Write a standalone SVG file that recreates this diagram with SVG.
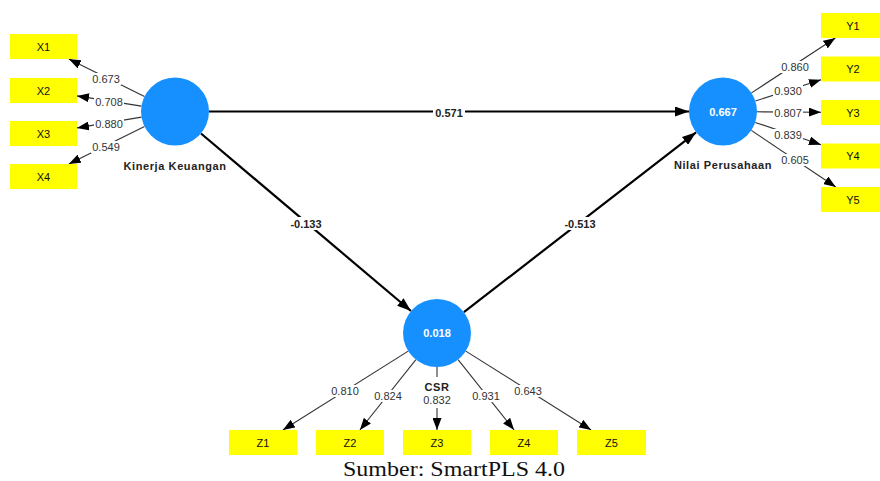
<svg xmlns="http://www.w3.org/2000/svg" width="880" height="481" viewBox="0 0 880 481">
<style>
.bg{fill:#ffffff}
.lat{fill:#1790ff}
.ind{fill:#ffff00}
.ilbl{font-family:"Liberation Sans",Arial,sans-serif;font-size:11px;fill:#111;text-anchor:middle}
.name{font-family:"Liberation Sans",Arial,sans-serif;font-size:11px;font-weight:bold;fill:#222;text-anchor:middle;letter-spacing:0.6px}
.r2{font-family:"Liberation Sans",Arial,sans-serif;font-size:11px;font-weight:bold;fill:#ffffff;text-anchor:middle}
.load{font-family:"Liberation Sans",Arial,sans-serif;font-size:11px;fill:#333;text-anchor:middle}
.path{font-family:"Liberation Sans",Arial,sans-serif;font-size:11px;font-weight:bold;fill:#222;text-anchor:middle}
.sline{stroke:#000;stroke-width:2.2;fill:none;marker-end:url(#big)}
.lline{stroke:#333;stroke-width:1.1;fill:none;marker-end:url(#small)}
.cap{font-family:"Liberation Serif","Times New Roman",serif;font-size:20px;fill:#111;text-anchor:middle}
</style>
<defs>
<marker id="big" markerUnits="userSpaceOnUse" markerWidth="14" markerHeight="10" refX="14" refY="5" orient="auto">
<path d="M0,0 L14,5 L0,10 z" fill="#000"/>
</marker>
<marker id="small" markerUnits="userSpaceOnUse" markerWidth="12" markerHeight="9" refX="12" refY="4.5" orient="auto">
<path d="M0,0 L12,4.5 L0,9 z" fill="#000"/>
</marker>
</defs>
<rect x="0" y="0" width="880" height="481" fill="#ffffff"/>

<g id="connectors">
<line class="sline" x1="209" y1="111.5" x2="689" y2="111.5"/>
<line class="sline" x1="201" y1="133.5" x2="411" y2="311"/>
<line class="sline" x1="463.9" y1="312.2" x2="696.1" y2="132.3"/>

<line class="lline" x1="144.5" y1="96.4" x2="68.8" y2="59"/>
<line class="lline" x1="141.4" y1="106.1" x2="77" y2="95.9"/>
<line class="lline" x1="141.5" y1="117.1" x2="77" y2="127.9"/>
<line class="lline" x1="144.5" y1="126.6" x2="68.8" y2="164"/>

<line class="lline" x1="751.5" y1="92.9" x2="835.4" y2="38"/>
<line class="lline" x1="755.4" y1="101" x2="821" y2="79.8"/>
<line class="lline" x1="757" y1="111.8" x2="821" y2="112.2"/>
<line class="lline" x1="755.2" y1="122.4" x2="821" y2="144.7"/>
<line class="lline" x1="751.3" y1="130.4" x2="835.8" y2="187"/>

<line class="lline" x1="408.2" y1="351.1" x2="282.9" y2="430"/>
<line class="lline" x1="415.9" y1="359.6" x2="359.9" y2="430"/>
<line class="lline" x1="437" y1="367" x2="437" y2="430"/>
<line class="lline" x1="458.1" y1="359.6" x2="514.1" y2="430"/>
<line class="lline" x1="465.8" y1="351.1" x2="591.1" y2="430"/>

<rect class="bg" x="433" y="106" width="32" height="13"/>
<text class="path" x="449" y="117">0.571</text>
<rect class="bg" x="287" y="217" width="38" height="13"/>
<text class="path" x="306" y="228">-0.133</text>
<rect class="bg" x="561" y="217" width="38" height="13"/>
<text class="path" x="580" y="228">-0.513</text>

<rect class="bg" x="91" y="73" width="30" height="12"/>
<text class="load" x="106" y="83">0.673</text>
<rect class="bg" x="94" y="96" width="30" height="12"/>
<text class="load" x="109" y="106">0.708</text>
<rect class="bg" x="94" y="118" width="30" height="12"/>
<text class="load" x="109" y="128">0.880</text>
<rect class="bg" x="91" y="141" width="30" height="12"/>
<text class="load" x="106" y="151">0.549</text>

<rect class="bg" x="780" y="61" width="30" height="12"/>
<text class="load" x="795" y="71">0.860</text>
<rect class="bg" x="773" y="85" width="30" height="12"/>
<text class="load" x="788" y="95">0.930</text>
<rect class="bg" x="773" y="107" width="30" height="12"/>
<text class="load" x="788" y="117">0.807</text>
<rect class="bg" x="773" y="129" width="30" height="12"/>
<text class="load" x="788" y="139">0.839</text>
<rect class="bg" x="780" y="154" width="30" height="12"/>
<text class="load" x="795" y="164">0.605</text>

<rect class="bg" x="330" y="385" width="30" height="12"/>
<text class="load" x="345" y="395">0.810</text>
<rect class="bg" x="373" y="390" width="30" height="12"/>
<text class="load" x="388" y="400">0.824</text>
<rect class="bg" x="420" y="377" width="34" height="31"/>
<text class="load" x="437" y="404">0.832</text>
<rect class="bg" x="471" y="390" width="30" height="12"/>
<text class="load" x="486" y="400">0.931</text>
<rect class="bg" x="513" y="385" width="30" height="12"/>
<text class="load" x="528" y="395">0.643</text>
</g>

<g id="kinerja">
<circle class="lat" cx="175" cy="111.5" r="34"/>
<text class="name" x="175" y="170">Kinerja Keuangan</text>
</g>
<g id="nilai">
<circle class="lat" cx="723" cy="111.5" r="34"/>
<text class="r2" x="723" y="115.5">0.667</text>
<text class="name" x="723" y="169">Nilai Perusahaan</text>
</g>
<g id="csr">
<circle class="lat" cx="437" cy="333" r="34"/>
<text class="r2" x="437" y="337">0.018</text>
<text class="name" x="437" y="391">CSR</text>
</g>

<g id="X1"><rect class="ind" x="10" y="34" width="67" height="25"/><text class="ilbl" x="43.5" y="50.5">X1</text></g>
<g id="X2"><rect class="ind" x="10" y="78" width="67" height="25"/><text class="ilbl" x="43.5" y="94.5">X2</text></g>
<g id="X3"><rect class="ind" x="10" y="121" width="67" height="25"/><text class="ilbl" x="43.5" y="137.5">X3</text></g>
<g id="X4"><rect class="ind" x="10" y="164" width="67" height="25"/><text class="ilbl" x="43.5" y="180.5">X4</text></g>

<g id="Y1"><rect class="ind" x="821" y="13" width="67" height="25"/><text class="ilbl" x="853" y="29.5">Y1</text></g>
<g id="Y2"><rect class="ind" x="821" y="56.5" width="67" height="25"/><text class="ilbl" x="853" y="73">Y2</text></g>
<g id="Y3"><rect class="ind" x="821" y="100" width="67" height="25"/><text class="ilbl" x="853" y="116.5">Y3</text></g>
<g id="Y4"><rect class="ind" x="821" y="143.5" width="67" height="25"/><text class="ilbl" x="853" y="160">Y4</text></g>
<g id="Y5"><rect class="ind" x="821" y="187" width="67" height="25"/><text class="ilbl" x="853" y="203.5">Y5</text></g>

<g id="Z1"><rect class="ind" x="229" y="430" width="68" height="25"/><text class="ilbl" x="263" y="446.5">Z1</text></g>
<g id="Z2"><rect class="ind" x="316" y="430" width="68" height="25"/><text class="ilbl" x="350" y="446.5">Z2</text></g>
<g id="Z3"><rect class="ind" x="403" y="430" width="68" height="25"/><text class="ilbl" x="437" y="446.5">Z3</text></g>
<g id="Z4"><rect class="ind" x="490" y="430" width="68" height="25"/><text class="ilbl" x="524" y="446.5">Z4</text></g>
<g id="Z5"><rect class="ind" x="577" y="430" width="69" height="25"/><text class="ilbl" x="611.5" y="446.5">Z5</text></g>

<text class="cap" x="454" y="476" textLength="222" lengthAdjust="spacingAndGlyphs">Sumber: SmartPLS 4.0</text>
</svg>
